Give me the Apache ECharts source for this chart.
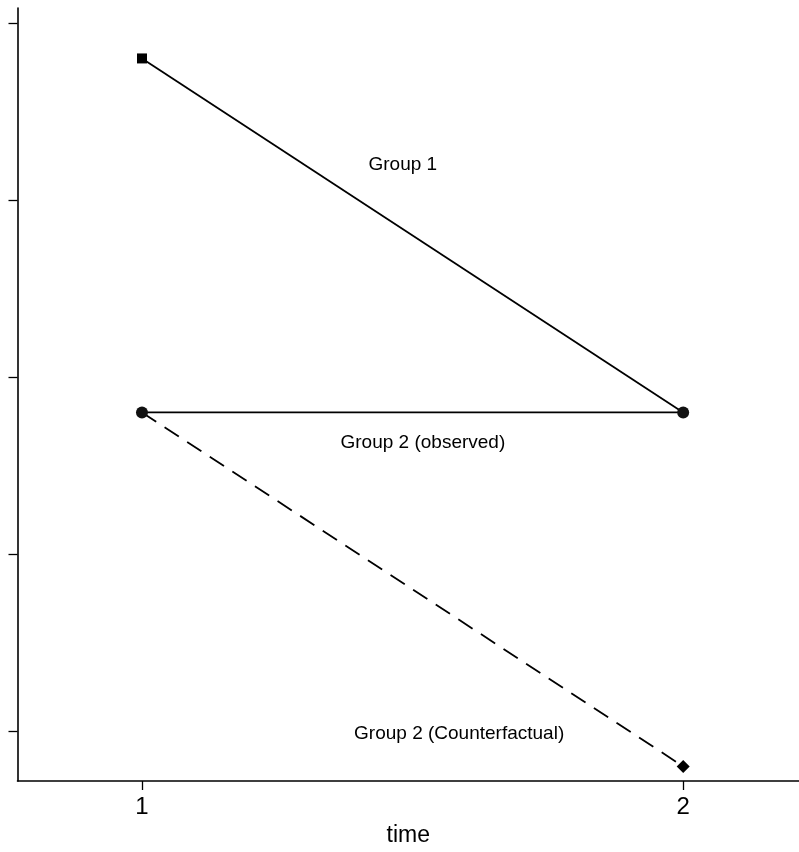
<!DOCTYPE html>
<html>
<head>
<meta charset="utf-8">
<script src="https://cdn.jsdelivr.net/npm/echarts@6/dist/echarts.min.js"></script>
<style>html,body{margin:0;padding:0;background:#fff}#c{width:799px;height:852px}</style>
</head>
<body>
<div id="c"></div>
<script>
const time = [1, 2];
const group1 = [4.8, 2.8];
const group2Observed = [2.8, 2.8];
const group2Counterfactual = [2.8, 0.8];
const xTicks = [1, 2];
const yTicks = [1, 2, 3, 4, 5];
const annotText = ['Group 1', 'Group 2 (observed)', 'Group 2 (Counterfactual)'];
const annotX = [1.482, 1.519, 1.586];
const annotY = [4.2, 2.63, 0.985];

const FONT = "'Liberation Sans', Arial, Helvetica, sans-serif";
const chart = echarts.init(document.getElementById('c'), null, {renderer: 'canvas'});
const pairs = (ys) => time.map((t, i) => [t, ys[i]]);

chart.setOption({
  animation: false,
  backgroundColor: '#fff',
  grid: {left: 17.5, right: 0, top: 8, bottom: 67, containLabel: false},
  xAxis: {
    type: 'value', min: 0.77, max: 2.214,
    name: 'time', nameLocation: 'middle', nameGap: 43,
    nameTextStyle: {fontFamily: FONT, fontSize: 23, color: '#000'},
    axisLine: {show: true, onZero: false, lineStyle: {color: '#000', width: 1.6}},
    axisTick: {show: true, length: 9, customValues: xTicks, lineStyle: {color: '#000', width: 1.3}},
    axisLabel: {show: true, customValues: xTicks, margin: 14, fontFamily: FONT, fontSize: 24, color: '#000'},
    splitLine: {show: false}
  },
  yAxis: {
    type: 'value', min: 0.7175, max: 5.085,
    axisLine: {show: true, onZero: false, lineStyle: {color: '#000', width: 1.6}},
    axisTick: {show: true, length: 9, customValues: yTicks, lineStyle: {color: '#000', width: 1.3}},
    axisLabel: {show: false},
    splitLine: {show: false}
  },
  series: [
    {
      name: 'Group 1', type: 'line',
      data: pairs(group1).map((p, i) => ({value: p, symbol: i === 0 ? 'rect' : 'none', symbolSize: 10})),
      lineStyle: {color: '#000', width: 1.8},
      itemStyle: {color: '#000'}, z: 3
    },
    {
      name: 'Group 2 (observed)', type: 'line',
      data: pairs(group2Observed), symbol: 'circle', symbolSize: 12,
      lineStyle: {color: '#000', width: 1.8},
      itemStyle: {color: '#111'}, z: 4
    },
    {
      name: 'Group 2 (Counterfactual)', type: 'line',
      data: pairs(group2Counterfactual).map((p, i) => ({value: p, symbol: i === 0 ? 'none' : 'diamond', symbolSize: 13})),
      lineStyle: {color: '#000', width: 1.8, type: [17, 10]},
      itemStyle: {color: '#000'}, z: 3
    },
    {
      type: 'scatter', symbol: 'circle', symbolSize: 2,
      itemStyle: {color: 'rgba(255,255,255,0)'},
      data: annotText.map((t, i) => ({value: [annotX[i], annotY[i]], name: t})),
      label: {show: true, position: 'inside', formatter: '{b}', fontFamily: FONT, fontSize: 19, color: '#000', opacity: 1},
      emphasis: {disabled: true},
      silent: true, z: 5
    }
  ]
});
</script>
</body>
</html>
